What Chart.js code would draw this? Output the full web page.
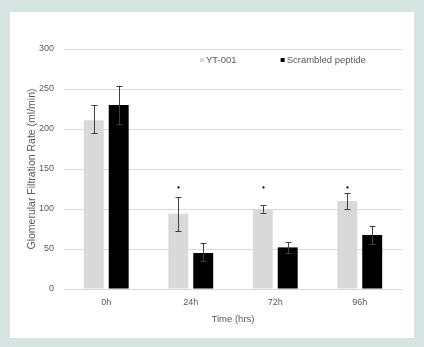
<!DOCTYPE html>
<html>
<head>
<meta charset="utf-8">
<script src="https://cdn.jsdelivr.net/npm/chart.js@4.4.0/dist/chart.umd.min.js"></script>
<style>
  html, body { margin: 0; padding: 0; }
  body { width: 424px; height: 347px; background: #d5e3e1; position: relative; overflow: hidden; }
  #panel { position: absolute; left: 10px; top: 12px; width: 404px; height: 326px; background: #ffffff; }
  canvas { display: block; }
</style>
</head>
<body>
<div id="panel"><canvas id="c" width="404" height="326"></canvas></div>
<script>
// ---- data ----
const categories = ['0h', '24h', '72h', '96h'];
const ytValues = [211, 94, 100, 110];
const ytErrHigh = [230, 115, 104.5, 120];
const ytErrLow = [195, 72.5, 95.5, 99.5];
const scrValues = [230, 45, 52, 67.5];
const scrErrHigh = [254, 57, 58.5, 79];
const scrErrLow = [206, 34.5, 44.5, 56];
const ytSignificance = [null, 127, 127, 127];
const yTicks = [0, 50, 100, 150, 200, 250, 300];
const seriesNames = ['YT-001', 'Scrambled peptide'];

const FONT = "'Liberation Sans', Arial, sans-serif";
const TXT = '#595959';

const errorBarPlugin = {
  id: 'errorBars',
  afterDatasetsDraw(chart) {
    const ctx = chart.ctx;
    const yScale = chart.scales.y;
    chart.data.datasets.forEach((ds, di) => {
      const meta = chart.getDatasetMeta(di);
      meta.data.forEach((bar, i) => {
        const hi = ds.errHigh[i], lo = ds.errLow[i];
        const yh = yScale.getPixelForValue(hi);
        const yl = yScale.getPixelForValue(lo);
        const x = Math.round(bar.x) + 0.5;
        ctx.save();
        ctx.strokeStyle = '#404040';
        ctx.lineWidth = 1;
        ctx.beginPath();
        ctx.moveTo(x, yh); ctx.lineTo(x, yl);
        ctx.moveTo(x - 3, Math.round(yh) + 0.5); ctx.lineTo(x + 3, Math.round(yh) + 0.5);
        ctx.moveTo(x - 3, Math.round(yl) + 0.5); ctx.lineTo(x + 3, Math.round(yl) + 0.5);
        ctx.stroke();
        if (ds.signif && ds.signif[i] != null) {
          const ys = yScale.getPixelForValue(ds.signif[i]);
          ctx.fillStyle = '#000';
          ctx.beginPath();
          ctx.arc(x, ys, 1.1, 0, Math.PI * 2);
          ctx.fill();
        }
        ctx.restore();
      });
    });
  }
};

// legend drawn inside the plot area, like the original
const inAreaLegend = {
  id: 'inAreaLegend',
  afterDraw(chart) {
    const ctx = chart.ctx;
    const area = chart.chartArea;
    let x = area.left + 136;
    const y = area.top + 11;
    const box = 4;
    ctx.save();
    ctx.font = "9.5px " + FONT;
    ctx.textBaseline = 'middle';
    ctx.textAlign = 'left';
    chart.data.datasets.forEach((ds) => {
      ctx.fillStyle = ds.backgroundColor;
      ctx.fillRect(x, y - box / 2, box, box);
      x += box + 2;
      ctx.fillStyle = TXT;
      ctx.fillText(ds.label, x, y);
      x += ctx.measureText(ds.label).width + 44;
    });
    ctx.restore();
  }
};

new Chart(document.getElementById('c'), {
  type: 'bar',
  data: {
    labels: categories,
    datasets: [
      { label: seriesNames[0], data: ytValues, backgroundColor: '#d9d9d9', errHigh: ytErrHigh, errLow: ytErrLow, signif: ytSignificance,
        barPercentage: 0.8, categoryPercentage: 0.59 },
      { label: seriesNames[1], data: scrValues, backgroundColor: '#000000', errHigh: scrErrHigh, errLow: scrErrLow,
        barPercentage: 0.8, categoryPercentage: 0.59 }
    ]
  },
  options: {
    responsive: false,
    animation: false,
    layout: { padding: { left: 12, right: 12, top: 37, bottom: 0 } },
    plugins: {
      legend: { display: false },
      tooltip: { enabled: false }
    },
    scales: {
      x: {
        grid: { display: false, drawTicks: false },
        border: { display: true, color: '#d9d9d9' },
        ticks: { color: TXT, font: { family: FONT, size: 9 }, padding: 8 },
        title: { display: true, text: 'Time (hrs)', color: TXT, font: { family: FONT, size: 9.5 }, padding: { top: 4, bottom: 13 } },
        afterFit(s) { s.height = 49; }
      },
      y: {
        min: 0, max: 300,
        afterBuildTicks(s) { s.ticks = yTicks.map(v => ({ value: v })); },
        grid: { color: '#d9d9d9', drawTicks: false },
        border: { display: false },
        ticks: { color: TXT, font: { family: FONT, size: 9 }, padding: 10 },
        title: { display: true, text: 'Glomerular Filtration Rate (ml/min)', color: TXT, font: { family: FONT, size: 10.5 } },
        afterFit(s) { s.width = 42; }
      }
    }
  },
  plugins: [errorBarPlugin, inAreaLegend]
});
</script>
</body>
</html>
